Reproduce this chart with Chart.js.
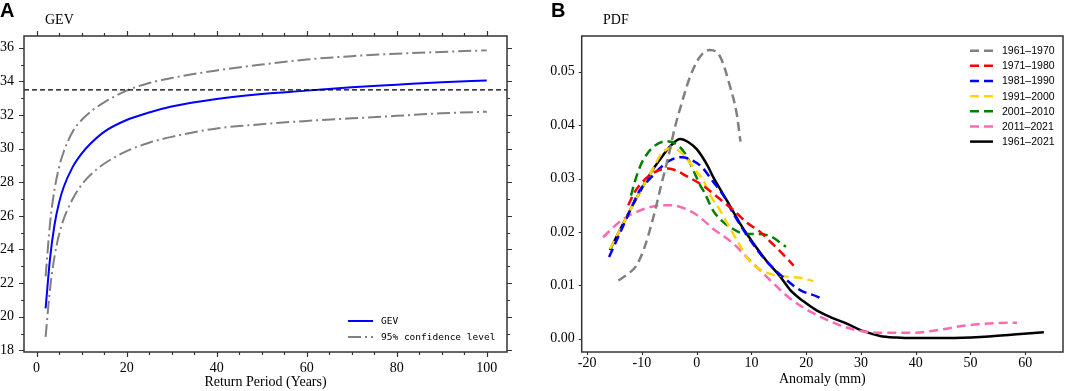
<!DOCTYPE html>
<html>
<head>
<meta charset="utf-8">
<script src="https://cdn.jsdelivr.net/npm/chart.js@4.4.0/dist/chart.umd.min.js"></script>
<style>
body { margin: 0; background: #fff; }
#wrap { position: relative; width: 1065px; height: 391px; overflow: hidden; background: #fff; }
canvas { position: absolute; top: 0; }
.panel { position: absolute; font: bold 20px "Liberation Sans", Arial, sans-serif; line-height: 20px; color: #000; }
.sub { position: absolute; font: 14px "Liberation Serif", "Times New Roman", serif; line-height: 16px; color: #000; }
</style>
</head>
<body>
<div id="wrap">
  <canvas id="cGev" width="530" height="391" style="left:0px"></canvas>
  <canvas id="cPdf" width="535" height="391" style="left:530px"></canvas>
  <div class="panel" style="left:0px;top:0px">A</div>
  <div class="sub" style="left:45px;top:12px">GEV</div>
  <div class="panel" style="left:551px;top:0px">B</div>
  <div class="sub" style="left:603px;top:12px">PDF</div>
</div>
<script>
//*******DADOS GEV*******
var returnPeriod = [2, 3, 4, 5, 6, 8, 10, 12, 15, 20, 25, 30, 40, 50, 60, 70, 80, 90, 100];
var gevLevel     = [20.5, 23.5, 25.5, 26.8, 27.7, 28.9, 29.7, 30.3, 31.0, 31.7, 32.15, 32.5, 32.95, 33.25, 33.45, 33.65, 33.8, 33.95, 34.05];
var upperLevel   = [22.4, 25.6, 27.6, 28.9, 29.8, 31.0, 31.7, 32.2, 32.75, 33.45, 33.9, 34.2, 34.65, 35.0, 35.3, 35.5, 35.65, 35.75, 35.85];
var lowerLevel   = [18.8, 21.7, 23.6, 24.9, 25.8, 27.0, 27.85, 28.45, 29.1, 29.85, 30.35, 30.7, 31.2, 31.45, 31.65, 31.8, 31.95, 32.1, 32.2];
var thresholdLevel = 33.5;
var gevXTicks = [0, 20, 40, 60, 80, 100];
var gevYTicks = [18, 20, 22, 24, 26, 28, 30, 32, 34, 36];

//*******DADOS PDF*******
var anomaly6170 = [-14.3, -12.2, -11, -9.5, -7.9, -6.4, -5.2, -4.0, -3.0, -1.2, 0.6, 2.4, 4.3, 6.1, 7.3, 8.0];
var pdf6170     = [0.0109, 0.0124, 0.0137, 0.0172, 0.0228, 0.0291, 0.0340, 0.0395, 0.0432, 0.0491, 0.0528, 0.0541, 0.0528, 0.0472, 0.0422, 0.0369];
var anomaly7180 = [-12.5, -11.3, -9.5, -8, -6.5, -5.2, -3.5, -2.1, 0, 1.5, 4.9, 6.7, 9.1, 11.6, 13.4, 15.2, 17.7];
var pdf7180     = [0.0250, 0.0275, 0.0298, 0.0310, 0.0317, 0.0319, 0.0314, 0.0306, 0.0294, 0.0284, 0.0256, 0.0241, 0.0218, 0.0200, 0.0182, 0.0164, 0.0137];
var anomaly8190 = [-16, -14, -12.5, -10.4, -8.8, -6.1, -4.5, -2.7, -1, 0.9, 3.0, 4.9, 6.7, 9.1, 11.6, 13.4, 16.5, 18.9, 22.2, 23.1];
var pdf8190     = [0.0153, 0.0198, 0.0232, 0.0278, 0.0297, 0.0325, 0.0336, 0.0340, 0.0335, 0.0322, 0.0294, 0.0268, 0.0234, 0.0195, 0.0159, 0.0138, 0.0109, 0.0091, 0.0078, 0.0073];
var anomaly9100 = [-15.8, -14, -12, -10, -8, -6.4, -4.6, -3, -1.5, -0.3, 1.2, 2.4, 4.3, 5.5, 7.3, 9.7, 12.2, 14, 16.5, 18.9, 21.3];
var pdf9100     = [0.0168, 0.0204, 0.0243, 0.0282, 0.0318, 0.0347, 0.0357, 0.0350, 0.0333, 0.0316, 0.0297, 0.0270, 0.0240, 0.0218, 0.0185, 0.0145, 0.0126, 0.0120, 0.0116, 0.0114, 0.0108];
var anomaly0110 = [-12, -11.3, -10.1, -9, -7.6, -5.5, -3.4, -2, -0.9, 0.6, 1.5, 3.0, 4.9, 6.1, 8.5, 11, 12.8, 14, 15.5, 16.3];
var pdf0110     = [0.0268, 0.0294, 0.0328, 0.0347, 0.0362, 0.0370, 0.0362, 0.0345, 0.0322, 0.0288, 0.0272, 0.0240, 0.0218, 0.0209, 0.0197, 0.0196, 0.0194, 0.0189, 0.0178, 0.0172];
var anomaly1121 = [-17.1, -13.7, -10.1, -6.4, -5, -3.4, -0.3, 1.2, 3.0, 6.7, 9.1, 11.6, 15.2, 16.5, 18.9, 22.2, 26.2, 29.2, 33.5, 39.6, 44.5, 49.4, 54.2, 58.5];
var pdf1121     = [0.0190, 0.0222, 0.0241, 0.0250, 0.0250, 0.0248, 0.0234, 0.0222, 0.0206, 0.0178, 0.0153, 0.0128, 0.0092, 0.0080, 0.0062, 0.0043, 0.0025, 0.0016, 0.0011, 0.0011, 0.0017, 0.0025, 0.0029, 0.0030];
var anomaly6121 = [-15.85, -14.2, -12.5, -11, -9.5, -8, -6.4, -4.7, -3.0, -1.5, 0, 2.1, 3.0, 5.5, 7.9, 9.1, 12.8, 15.2, 17.1, 19.5, 21.9, 24.5, 27.4, 30.5, 33.5, 36.5, 39.6, 45.7, 51.8, 57.9, 63.4];
var pdf6121     = [0.0166, 0.0200, 0.0234, 0.0263, 0.0291, 0.0317, 0.0340, 0.0362, 0.0374, 0.0368, 0.0355, 0.0322, 0.0303, 0.0259, 0.0216, 0.0197, 0.0145, 0.0117, 0.0091, 0.0070, 0.0053, 0.0040, 0.0028, 0.0014, 0.0005, 0.0002, 0.0001, 0.0001, 0.0003, 0.0008, 0.0012];
var pdfLabels = ["1961–1970", "1971–1980", "1981–1990", "1991–2000", "2001–2010", "2011–2021", "1961–2021"];
var pdfXTicks = [-20, -10, 0, 10, 20, 30, 40, 50, 60];
var pdfYTicks = [0, 0.01, 0.02, 0.03, 0.04, 0.05];

var serif = "'Liberation Serif', 'Times New Roman', serif";

function pontos(xs, ys) {
    return xs.map(function (x, i) { return { x: x, y: ys[i] }; });
}

function marcas(values, len) {
    return values.map(function (v) { return { v: v, len: len }; });
}

function menores(from, to, step, skip) {
    var r = [];
    for (var v = from; v <= to + 1e-9; v += step) {
        if (skip.indexOf(Math.round(v * 1000) / 1000) < 0) r.push(Math.round(v * 1000) / 1000);
    }
    return r;
}

//*******PLUGINS*******
var molduraEixos = {
    id: 'moldura',
    afterDraw: function (chart, args, o) {
        var ctx = chart.ctx, a = chart.chartArea, sx = chart.scales.x, sy = chart.scales.y;
        ctx.save();
        ctx.lineWidth = o.tickWidth;
        ctx.strokeStyle = o.color;
        ctx.beginPath();
        o.xTicks.forEach(function (t) {
            var px = Math.round(sx.getPixelForValue(t.v)) + 0.5;
            ctx.moveTo(px, a.bottom); ctx.lineTo(px, a.bottom + t.len);
            if (o.mirror) { ctx.moveTo(px, a.top); ctx.lineTo(px, a.top - t.len); }
        });
        o.yTicks.forEach(function (t) {
            var py = Math.round(sy.getPixelForValue(t.v)) + 0.5;
            ctx.moveTo(a.left, py); ctx.lineTo(a.left - t.len, py);
            if (o.mirror) { ctx.moveTo(a.right, py); ctx.lineTo(a.right + t.len, py); }
        });
        ctx.stroke();
        ctx.lineWidth = o.lineWidth;
        ctx.strokeRect(a.left, a.top, a.right - a.left, a.bottom - a.top);
        ctx.restore();
    }
};

var legendaManual = {
    id: 'legendaManual',
    afterDraw: function (chart, args, o) {
        var ctx = chart.ctx;
        ctx.save();
        ctx.font = o.font;
        ctx.textBaseline = 'middle';
        ctx.fillStyle = '#000';
        o.items.forEach(function (it, i) {
            var y = o.y + i * o.spacing;
            ctx.beginPath();
            ctx.strokeStyle = it.color;
            ctx.lineWidth = it.width;
            ctx.setLineDash(it.dash || []);
            ctx.moveTo(o.x, y);
            ctx.lineTo(o.x + o.lineLen, y);
            ctx.stroke();
            ctx.setLineDash([]);
            ctx.fillText(it.label, o.x + o.lineLen + o.gap, y + 0.5);
        });
        ctx.restore();
    }
};

function eixoX(ticksArr, min, max, titulo, pad, titlePad, fmt) {
    return {
        type: 'linear', min: min, max: max,
        grid: { display: false, drawTicks: false },
        border: { display: false },
        afterBuildTicks: function (s) { s.ticks = ticksArr.map(function (v) { return { value: v }; }); },
        afterFit: function (s) { s.height = 39; },
        ticks: { padding: pad, color: '#000', font: { family: serif, size: 14 }, maxRotation: 0, autoSkip: false,
                 callback: fmt },
        title: { display: true, text: titulo, color: '#000', font: { family: serif, size: 14 }, padding: { top: 0, bottom: titlePad } }
    };
}

function eixoY(ticksArr, min, max, largura, pad, fmt) {
    return {
        type: 'linear', min: min, max: max,
        grid: { display: false, drawTicks: false },
        border: { display: false },
        afterBuildTicks: function (s) { s.ticks = ticksArr.map(function (v) { return { value: v }; }); },
        afterFit: function (s) { s.width = largura; },
        ticks: { padding: pad, color: '#000', font: { family: serif, size: 14 }, autoSkip: false, callback: fmt }
    };
}

//*******GRAFICO GEV*******
function GraficoGEV() {
    var ciDash = [13, 4, 2, 4];
    var ctx = document.getElementById('cGev').getContext('2d');
    new Chart(ctx, {
        type: 'line',
        data: {
            datasets: [
                { label: 'limiar', data: [{ x: -2.8, y: thresholdLevel }, { x: 104.5, y: thresholdLevel }],
                  borderColor: '#000', borderWidth: 1.3, borderDash: [5, 3], pointRadius: 0 },
                { label: 'upper', data: pontos(returnPeriod, upperLevel), borderColor: '#808080', borderWidth: 2,
                  borderDash: ciDash, pointRadius: 0, cubicInterpolationMode: 'monotone' },
                { label: 'lower', data: pontos(returnPeriod, lowerLevel), borderColor: '#808080', borderWidth: 2,
                  borderDash: ciDash, pointRadius: 0, cubicInterpolationMode: 'monotone' },
                { label: 'GEV', data: pontos(returnPeriod, gevLevel), borderColor: '#0000ff', borderWidth: 2,
                  pointRadius: 0, cubicInterpolationMode: 'monotone' }
            ]
        },
        options: {
            responsive: false, animation: false, devicePixelRatio: 1,
            layout: { padding: { top: 36, right: 23, left: 0, bottom: 0 } },
            scales: {
                x: eixoX(gevXTicks, -2.8, 104.5, 'Return Period (Years)', 8, 0),
                y: eixoY(gevYTicks, 17.9, 36.7, 24, 10)
            },
            plugins: {
                legend: { display: false }, tooltip: { enabled: false },
                moldura: {
                    color: '#333', lineWidth: 1.5, tickWidth: 1.2, mirror: true,
                    xTicks: marcas(gevXTicks, 5).concat(marcas(menores(0, 100, 5, gevXTicks), 3)),
                    yTicks: marcas(gevYTicks, 5).concat(marcas(menores(18, 36, 1, gevYTicks), 3))
                },
                legendaManual: {
                    x: 348, y: 321, spacing: 16, lineLen: 25, gap: 8,
                    font: "9.5px 'DejaVu Sans Mono', monospace",
                    items: [
                        { label: 'GEV', color: '#0000ff', width: 2 },
                        { label: '95% confidence level', color: '#808080', width: 2, dash: [13, 4, 2, 4] }
                    ]
                }
            }
        },
        plugins: [molduraEixos, legendaManual]
    });
}

//*******GRAFICO PDF*******
function GraficoPDF() {
    var dash = [9, 5];
    var series = [
        { xs: anomaly6170, ys: pdf6170, color: '#808080', dash: dash },
        { xs: anomaly7180, ys: pdf7180, color: '#ff0000', dash: dash },
        { xs: anomaly8190, ys: pdf8190, color: '#0000ff', dash: dash },
        { xs: anomaly9100, ys: pdf9100, color: '#ffd700', dash: dash },
        { xs: anomaly0110, ys: pdf0110, color: '#008000', dash: dash },
        { xs: anomaly1121, ys: pdf1121, color: '#ff69b4', dash: dash },
        { xs: anomaly6121, ys: pdf6121, color: '#000000', dash: [] }
    ];
    var datasets = series.map(function (s, i) {
        return {
            label: pdfLabels[i], data: pontos(s.xs, s.ys), borderColor: s.color, borderWidth: 2.5,
            borderDash: s.dash, pointRadius: 0, cubicInterpolationMode: 'monotone'
        };
    });
    var ctx = document.getElementById('cPdf').getContext('2d');
    new Chart(ctx, {
        type: 'line',
        data: { datasets: datasets },
        options: {
            responsive: false, animation: false, devicePixelRatio: 1,
            layout: { padding: { top: 36, right: 2, left: 0, bottom: 0 } },
            scales: {
                x: eixoX(pdfXTicks, -21, 66.9, 'Anomaly (mm)', 3, 3),
                y: eixoY(pdfYTicks, -0.0025, 0.0567, 51.7, 7, function (v) { return v.toFixed(2); })
            },
            plugins: {
                legend: { display: false }, tooltip: { enabled: false },
                moldura: {
                    color: '#333', lineWidth: 1.5, tickWidth: 1.2, mirror: false,
                    xTicks: marcas(pdfXTicks, 3),
                    yTicks: marcas(pdfYTicks, 3)
                },
                legendaManual: {
                    x: 440, y: 50.7, spacing: 15.15, lineLen: 23, gap: 9,
                    font: "10.5px 'Liberation Sans', Arial, sans-serif",
                    items: series.map(function (s, i) {
                        return { label: pdfLabels[i], color: s.color, width: 2.5, dash: s.dash };
                    })
                }
            }
        },
        plugins: [molduraEixos, legendaManual]
    });
}

GraficoGEV();
GraficoPDF();
</script>
</body>
</html>
